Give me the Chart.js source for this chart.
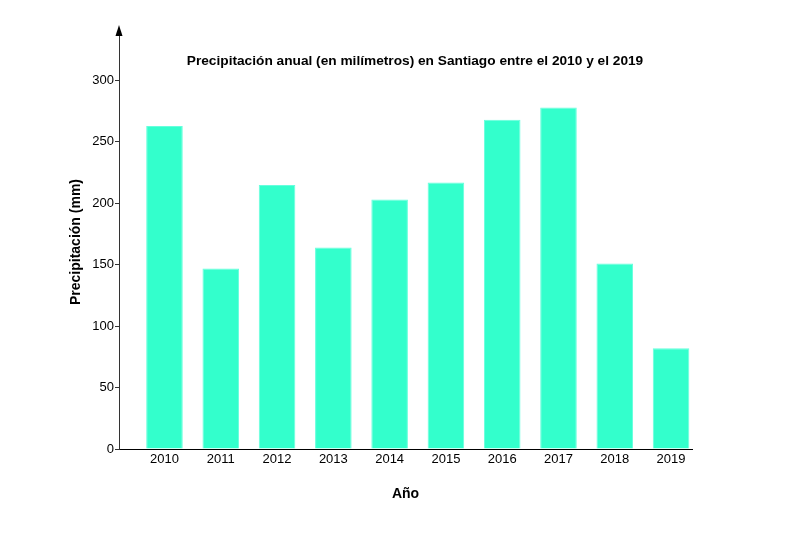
<!DOCTYPE html>
<html>
<head>
<meta charset="utf-8">
<script src="https://cdn.jsdelivr.net/npm/chart.js@4"></script>
<style>
  body { margin: 0; background: #fff; }
  #wrap { width: 793px; height: 540px; }
</style>
</head>
<body>
<div id="wrap"><canvas id="rainChart"></canvas></div>
<script>
const years = ["2010", "2011", "2012", "2013", "2014", "2015", "2016", "2017", "2018", "2019"];
const rainfall = [263, 147, 215, 164, 203, 217, 268, 278, 151, 82];
const yTicks = [0, 50, 100, 150, 200, 250, 300];

const chartTitle = "Precipitación anual (en milímetros) en Santiago entre el 2010 y el 2019";

// title + arrow on the y axis, drawn on top of the chart
const decorations = {
  id: "decorations",
  afterDraw(c) {
    const ctx = c.ctx;
    const x0 = c.scales.y.right;
    ctx.save();
    ctx.fillStyle = "#000";
    ctx.beginPath();
    ctx.moveTo(x0, c.chartArea.top - 10);
    ctx.lineTo(x0 - 3.5, c.chartArea.top + 1);
    ctx.lineTo(x0 + 3.5, c.chartArea.top + 1);
    ctx.closePath();
    ctx.fill();
    ctx.font = "bold 13.7px 'Liberation Sans', Arial, sans-serif";
    ctx.textAlign = "center";
    ctx.textBaseline = "middle";
    ctx.fillText(chartTitle, 415, 61);
    ctx.restore();
  },
};

Chart.defaults.font.family = "'Liberation Sans', Arial, sans-serif";
Chart.defaults.color = "#000";

const chart = new Chart(document.getElementById("rainChart"), {
  type: "bar",
  data: {
    datasets: [
      {
        data: rainfall.map((v, i) => ({ x: i, y: v })),
        backgroundColor: "#33ffcc",
        borderColor: "#66ffdd",
        borderWidth: 1,
        barPercentage: 0.65,
        categoryPercentage: 1,
      },
    ],
  },
  options: {
    responsive: true,
    maintainAspectRatio: false,
    animation: false,
    layout: { padding: { left: 64, right: 101, top: 35, bottom: 33 } },
    plugins: {
      legend: { display: false },
      tooltip: { enabled: false },
    },
    scales: {
      x: {
        type: "linear",
        offset: false,
        min: -0.808,
        max: 9.372,
        afterFit: (s) => { s.height = 58; },
        afterBuildTicks: (s) => {
          s.ticks = years.map((_, i) => ({ value: i }));
        },
        border: { color: "#000", width: 1 },
        grid: { display: false, drawTicks: false, offset: false },
        ticks: {
          font: { size: 13 },
          padding: 3,
          maxRotation: 0,
          autoSkip: false,
          callback: (v) => years[v],
        },
        title: {
          display: true,
          text: "Año",
          font: { size: 14, weight: "bold" },
          padding: { top: 4, bottom: 4 },
        },
      },
      y: {
        min: 0,
        max: 337,
        afterFit: (s) => { s.width = 55; },
        afterBuildTicks: (s) => {
          s.ticks = yTicks.map((v) => ({ value: v }));
        },
        border: { color: "#333", width: 1 },
        grid: {
          drawOnChartArea: false,
          drawTicks: true,
          tickLength: 4,
          tickColor: "#333",
        },
        ticks: { font: { size: 13 }, padding: 1 },
        title: {
          display: true,
          text: "Precipitación (mm)",
          font: { size: 14, weight: "bold" },
          padding: { top: 4, bottom: 4 },
        },
      },
    },
  },
  plugins: [decorations],
});
</script>
</body>
</html>
